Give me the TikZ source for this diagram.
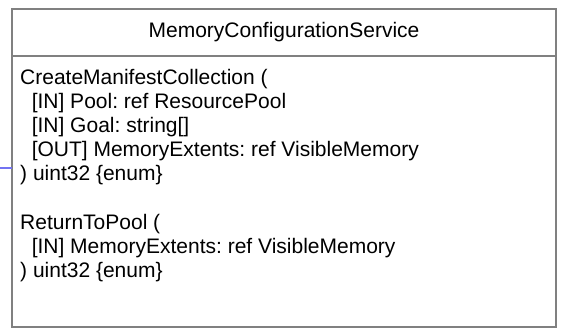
\documentclass[tikz,border=0pt]{standalone}
\usepackage{fontspec}
\setmainfont{Liberation Sans}
\usetikzlibrary{positioning}
\definecolor{umlgray}{HTML}{808080}
\definecolor{linkblue}{HTML}{7373F2}
\newcommand{\argind}{\hspace*{0.55em}}
\frenchspacing

\begin{document}
\begin{tikzpicture}[x=1pt,y=-1pt,font=\fontsize{21}{24.15}\selectfont]
    \tikzset{
        classbox/.style={
            draw=umlgray,line width=2pt,minimum width=544pt,
            inner sep=0pt,outer sep=0pt
        },
        members/.style={anchor=north west,align=left,inner sep=0pt},
        link/.style={draw=linkblue,line width=1.2pt}
    }
    \useasboundingbox (0,0) rectangle (561,336);

    \node[classbox,minimum height=47pt] (svc-name) at (284,32.5)
        {MemoryConfigurationService};
    \node[classbox,minimum height=271pt,below=0pt of svc-name] (svc-ops) {};

    \node[members] (svc-text) at ([xshift=8pt,yshift=-12.7pt]svc-ops.north west)
        {CreateManifestCollection (\\
         \argind[IN] Pool: ref ResourcePool\\
         \argind[IN] Goal: string[]\\
         \argind[OUT] MemoryExtents: ref VisibleMemory\\
         ) uint32 \{enum\}\\
         \mbox{}\\
         ReturnToPool (\\
         \argind[IN] MemoryExtents: ref VisibleMemory\\
         ) uint32 \{enum\}};

    \coordinate (link-end) at (0,168);
    \draw[link] (link-end) -- (link-end -| svc-ops.west);
\end{tikzpicture}
\end{document}
